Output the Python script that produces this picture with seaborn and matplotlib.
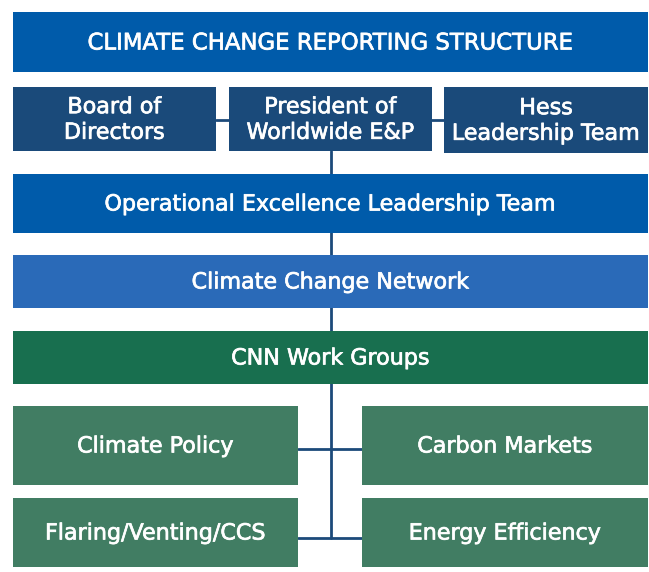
import matplotlib.pyplot as plt
import matplotlib.patheffects as pe
import seaborn as sns

# chart content
title = "CLIMATE CHANGE REPORTING STRUCTURE"
top_row = ["Board of\nDirectors", "President of\nWorldwide E&P", "Hess\nLeadership Team"]
chain = ["Operational Excellence Leadership Team", "Climate Change Network", "CNN Work Groups"]
work_groups = ["Climate Policy", "Carbon Markets", "Flaring/Venting/CCS", "Energy Efficiency"]

# layout in pixel units (x from left, y from top)
W, H = 649, 572
full_x = (13, 648)
title_y = (12, 72)
top_x = [(13, 216), (229, 432), (444, 648)]
top_y = [(87, 151), (87, 151), (87, 153)]
chain_y = [(174, 233), (255, 308), (331, 384)]
wg_x = [(13, 298), (362, 648), (13, 298), (362, 648)]
wg_y = [(406, 485), (406, 485), (498, 567), (498, 567)]
spine_x = 331

blue = "#005BAA"
navy = "#1A4A7A"
mid_blue = "#2A6AB8"
dark_green = "#186F4F"
green = "#417D63"
line_col = "#1C4A7A"
chain_cols = [blue, mid_blue, dark_green]

sns.set_style("white")
plt.rcParams["font.family"] = ["DejaVu Sans"]

fig = plt.figure(figsize=(W / 100, H / 100), dpi=100)
ax = fig.add_axes([0, 0, 1, 1])
ax.set_xlim(0, W)
ax.set_ylim(H, 0)
ax.axis("off")

# a thin white stroke makes the regular face look like a medium weight
heavier = [pe.withStroke(linewidth=0.5, foreground="white")]


def box(xr, yr, color, label, size=16):
    ax.bar((xr[0] + xr[1]) / 2, yr[1] - yr[0], width=xr[1] - xr[0], bottom=yr[0],
           color=color, linewidth=0, zorder=2)
    ax.text((xr[0] + xr[1]) / 2, (yr[0] + yr[1]) / 2 + 1, label, color="white",
            ha="center", va="center", fontsize=size, linespacing=1.35,
            path_effects=heavier, zorder=3)


# connector lines
ax.plot([spine_x, spine_x], [151, 538], color=line_col, lw=2, zorder=1)
ax.plot([216, 444], [120, 120], color=line_col, lw=2, zorder=1)
ax.plot([298, 362], [449, 449], color=line_col, lw=2, zorder=1)
ax.plot([298, 362], [538, 538], color=line_col, lw=2, zorder=1)

box(full_x, title_y, blue, title, size=16.4)
for xr, yr, lab in zip(top_x, top_y, top_row):
    box(xr, yr, navy, lab)
for yr, col, lab in zip(chain_y, chain_cols, chain):
    box(full_x, yr, col, lab)
for xr, yr, lab in zip(wg_x, wg_y, work_groups):
    box(xr, yr, green, lab)

fig.savefig("out.png", dpi=100)
